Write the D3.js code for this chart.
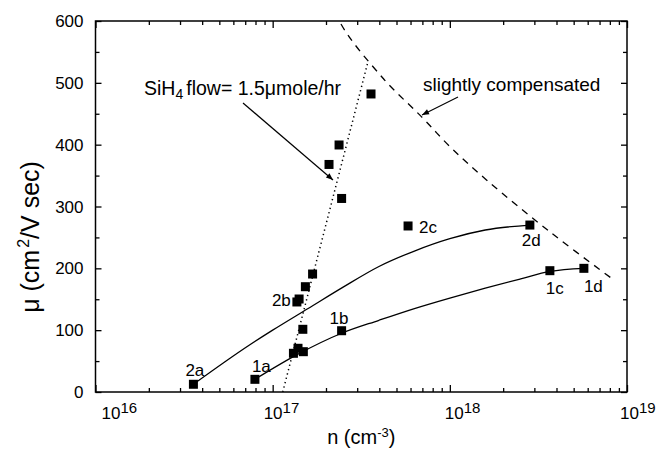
<!DOCTYPE html>
<html><head><meta charset="utf-8">
<script src="https://cdn.jsdelivr.net/npm/d3@7"></script>
<style>
body{margin:0;background:#fff}
svg{display:block;background:#fff}
text{font-family:"Liberation Sans",Arial,Helvetica,sans-serif;fill:#000}
</style>
</head><body>
<svg id="chart" width="660" height="451"></svg>
<script>
// ---------- data ----------
const xDomain = [1e16, 1e19];
const yDomain = [0, 600];
const xMajorTicks = [1e16, 1e17, 1e18, 1e19];
const xTickExponents = ["16", "17", "18", "19"];
const yMajorTicks = [0, 100, 200, 300, 400, 500, 600];
const yMinorTicks = [50, 150, 250, 350, 450, 550];

// measured samples (n in cm^-3, mu in cm^2/V s)
const sampleN  = [3.57e16, 7.94e16, 1.31e17, 1.39e17, 1.49e17, 1.48e17, 2.45e17,
                  1.37e17, 1.41e17, 1.53e17, 1.68e17, 2.08e17, 2.37e17, 2.45e17, 3.59e17,
                  5.81e17, 2.83e18, 3.67e18, 5.71e18];
const sampleMu = [12.5, 20.5, 62.6, 70.7, 65.2, 101.4, 99.1,
                  145.6, 150.4, 170.3, 190.8, 368, 399.5, 313, 482,
                  268.5, 270, 196.2, 200];

// sample labels
const labelText = ["2a", "1a", "2b", "1b", "2c", "2d", "1c", "1d"];
const labelN    = [3.57e16, 7.94e16, 1.37e17, 2.45e17, 5.81e17, 2.83e18, 3.67e18, 5.71e18];
const labelMu   = [12.5, 20.5, 145.6, 99.1, 268.5, 270, 196.2, 200];

// series "2" guide curve
const upperN  = [3.57e16, 7.4e16, 1.0e17, 1.585e17, 2.512e17, 3.98e17, 6.31e17, 1.0e18, 1.585e18, 2.83e18];
const upperMu = [12.5, 76, 100, 135, 170, 203, 228, 248, 262, 270];
// series "1" guide curve
const lowerN  = [7.94e16, 1.365e17, 2.45e17, 3.98e17, 6.31e17, 1.0e18, 1.585e18, 2.512e18, 3.67e18, 5.71e18];
const lowerMu = [20.5, 60, 95, 116, 135, 152, 168, 183, 195, 200];
// SiH4 flow = 1.5 umole/hr guide (dotted)
const flowN  = [1.14e17, 3.45e17];
const flowMu = [0, 534];
// slightly compensated limit (dashed)
const compN  = [2.1e17, 2.38e17, 4.21e17, 6.93e17, 1.0e18, 1.61e18, 3.75e18, 8.35e18];
const compMu = [655, 600, 507, 445, 397, 343, 257, 182];

// ---------- layout ----------
const svg = d3.select("#chart");
const L = 95.5, R = 627, T = 21, B = 392;
const x = d3.scaleLog().domain(xDomain).range([L, R]);
const y = d3.scaleLinear().domain(yDomain).range([B, T]);

svg.append("rect").attr("width", 660).attr("height", 451).attr("fill", "#fff");

svg.append("defs").append("clipPath").attr("id", "plotclip")
  .append("rect").attr("x", L).attr("y", T).attr("width", R - L).attr("height", B - T);

// minor x ticks
const xMinor = [];
for (let e = 16; e < 19; e++) for (let m = 2; m <= 9; m++) xMinor.push(m * Math.pow(10, e));

function axisStyle(g) {
  g.select(".domain").remove();
  g.selectAll(".tick text").remove();
  g.selectAll(".tick line").attr("stroke", "#000").attr("stroke-width", 1.3);
}
svg.append("g").attr("transform", `translate(0,${B})`)
  .call(d3.axisBottom(x).tickValues(xMajorTicks).tickSize(-7)).call(axisStyle);
svg.append("g").attr("transform", `translate(0,${B})`)
  .call(d3.axisBottom(x).tickValues(xMinor).tickSize(-4)).call(axisStyle);
svg.append("g").attr("transform", `translate(0,${T})`)
  .call(d3.axisTop(x).tickValues(xMajorTicks).tickSize(-7)).call(axisStyle);
svg.append("g").attr("transform", `translate(0,${T})`)
  .call(d3.axisTop(x).tickValues(xMinor).tickSize(-4)).call(axisStyle);
svg.append("g").attr("transform", `translate(${L},0)`)
  .call(d3.axisLeft(y).tickValues(yMajorTicks).tickSize(-6)).call(axisStyle);
svg.append("g").attr("transform", `translate(${L},0)`)
  .call(d3.axisLeft(y).tickValues(yMinorTicks).tickSize(-4)).call(axisStyle);
svg.append("g").attr("transform", `translate(${R},0)`)
  .call(d3.axisRight(y).tickValues(yMajorTicks).tickSize(-6)).call(axisStyle);
svg.append("g").attr("transform", `translate(${R},0)`)
  .call(d3.axisRight(y).tickValues(yMinorTicks).tickSize(-4)).call(axisStyle);

// frame
svg.append("rect").attr("x", L).attr("y", T).attr("width", R - L).attr("height", B - T)
  .attr("fill", "none").attr("stroke", "#000").attr("stroke-width", 1.5);

// y tick labels
svg.append("g").selectAll("text").data(yMajorTicks).join("text")
  .attr("x", L - 12).attr("y", d => y(d)).attr("dy", "0.36em")
  .attr("text-anchor", "end").attr("font-size", 17).text(d => d);

// x tick labels
const xLabelShift = [6, -9, -5, -7];
const xl = svg.append("g").selectAll("text").data(xMajorTicks).join("text")
  .attr("x", (d, i) => x(d) + xLabelShift[i]).attr("y", 419).attr("font-size", 17);
xl.append("tspan").text("10");
xl.append("tspan").attr("dy", -6).attr("font-size", 15).text((d, i) => xTickExponents[i]);

// axis titles
const xt = svg.append("text").attr("x", (L + R) / 2).attr("y", 444)
  .attr("text-anchor", "middle").attr("font-size", 20);
xt.append("tspan").text("n (cm");
xt.append("tspan").attr("dy", -7).attr("font-size", 13).text("-3");
xt.append("tspan").attr("dy", 7).text(")");

const yt = svg.append("text").attr("transform", `translate(39,237) rotate(-90)`)
  .attr("text-anchor", "middle").attr("font-size", 25);
yt.append("tspan").text("\u03bc (cm");
yt.append("tspan").attr("dy", -10).attr("dx", 2).attr("font-size", 16).text("2");
yt.append("tspan").attr("dy", 10).text("/V sec)");

// curves
const plot = svg.append("g").attr("clip-path", "url(#plotclip)");
function lineOf(ns, ms, curve) {
  return d3.line().x((d, i) => x(ns[i])).y((d, i) => y(ms[i])).curve(curve)(ns);
}
plot.append("path").attr("d", lineOf(upperN, upperMu, d3.curveMonotoneX))
  .attr("fill", "none").attr("stroke", "#000").attr("stroke-width", 1.3);
plot.append("path").attr("d", lineOf(lowerN, lowerMu, d3.curveMonotoneX))
  .attr("fill", "none").attr("stroke", "#000").attr("stroke-width", 1.3);
plot.append("path").attr("d", lineOf(flowN, flowMu, d3.curveLinear))
  .attr("fill", "none").attr("stroke", "#000").attr("stroke-width", 1.5)
  .attr("stroke-dasharray", "1.3 3.2");
plot.append("path").attr("d", lineOf(compN, compMu, d3.curveCatmullRom))
  .attr("fill", "none").attr("stroke", "#000").attr("stroke-width", 1.3)
  .attr("stroke-dasharray", "7 6");

// markers
const S = 9;
svg.append("g").selectAll("rect").data(sampleN).join("rect")
  .attr("x", (d, i) => x(d) - S / 2).attr("y", (d, i) => y(sampleMu[i]) - S / 2)
  .attr("width", S).attr("height", S).attr("fill", "#000");

// sample labels (offsets in px from the marker)
const labelDx = [-8, -3, -25, -12, 11, -8, -4, 0];
const labelDy = [-8, -7, 4, -7, 7, 21, 23, 24];
svg.append("g").selectAll("text").data(labelText).join("text")
  .attr("x", (d, i) => x(labelN[i]) + labelDx[i])
  .attr("y", (d, i) => y(labelMu[i]) + labelDy[i])
  .attr("font-size", 17).text(d => d);

// annotations
svg.append("defs").append("marker").attr("id", "arr").attr("viewBox", "0 0 10 10")
  .attr("refX", 10).attr("refY", 5).attr("markerWidth", 9).attr("markerHeight", 7)
  .attr("markerUnits", "userSpaceOnUse").attr("orient", "auto")
  .append("path").attr("d", "M0,1 L10,5 L0,9 Z").attr("fill", "#000");

const a1 = svg.append("text").attr("x", 144).attr("y", 95).attr("font-size", 19.5);
a1.append("tspan").text("SiH");
a1.append("tspan").attr("dy", 4).attr("font-size", 14).text("4");
a1.append("tspan").attr("dy", -4).attr("dx", 3).text("flow= 1.5\u03bcmole/hr");
svg.append("line").attr("x1", 243).attr("y1", 103).attr("x2", 333).attr("y2", 180)
  .attr("stroke", "#000").attr("stroke-width", 1.2).attr("marker-end", "url(#arr)");

svg.append("text").attr("x", 423).attr("y", 91).attr("font-size", 19).text("slightly compensated");
svg.append("line").attr("x1", 458).attr("y1", 97).attr("x2", 422).attr("y2", 115)
  .attr("stroke", "#000").attr("stroke-width", 1.2).attr("marker-end", "url(#arr)");
</script>
</body></html>
